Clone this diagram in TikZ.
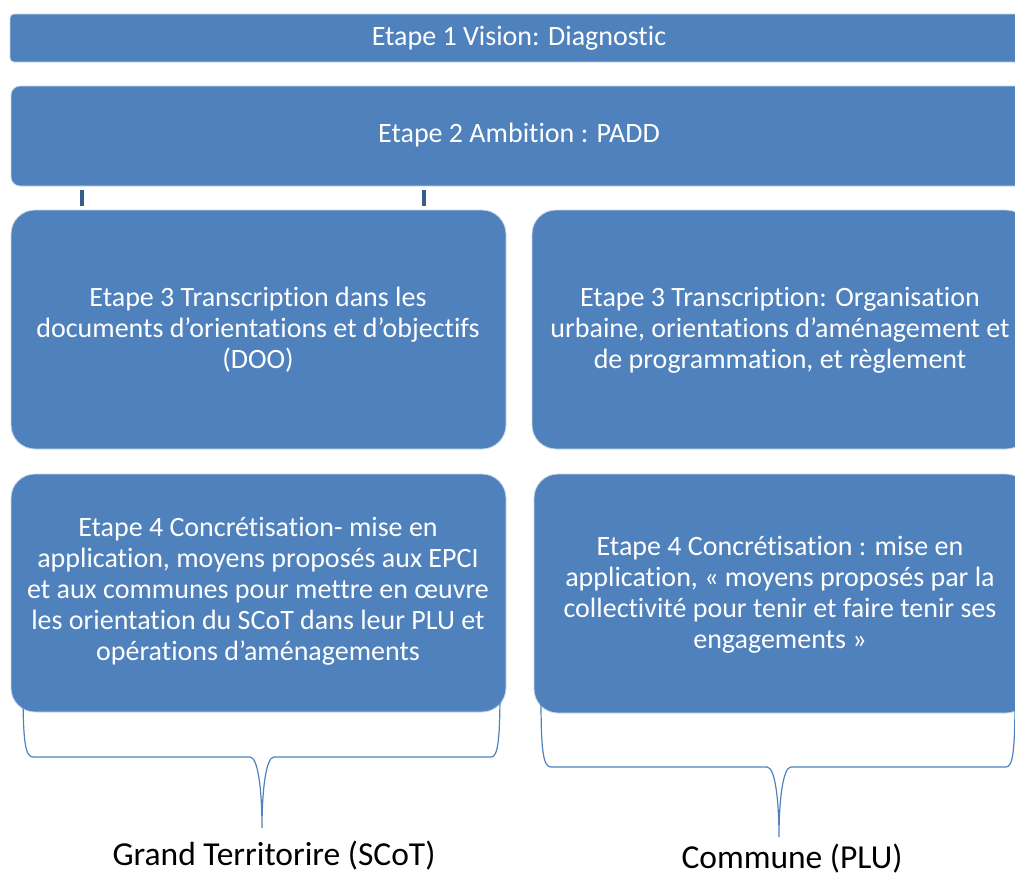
\documentclass[tikz,border=0pt]{standalone}
\usepackage{fontspec}
\setmainfont{Carlito}[Ligatures={NoCommon}]
\definecolor{obl}{HTML}{4F81BD}
\definecolor{obd}{HTML}{385D8A}
\definecolor{obe}{HTML}{C8D6EA}
\begin{document}
\begin{tikzpicture}[x=1pt,y=-1pt,
  bar/.style={fill=obl,draw=obe,line width=0.8pt},
  bigbox/.style={bar,rounded corners=24pt},
  btxt/.style={text=white,align=center,font=\fontsize{28}{31}\selectfont,inner sep=0pt},
  tick/.style={draw=obd,line width=3.5pt},
  brace/.style={draw=obl,line width=1.2pt},
  lbl/.style={font=\fontsize{33.5}{38}\selectfont,text=black,inner sep=0pt}]
\useasboundingbox (0,0) rectangle (1015,878);
% bars
\draw[bar,rounded corners=4pt] (10,14) rectangle (1028,62);
\node[btxt] (b1) at (519,38) {Etape 1 Vision: Diagnostic};
\draw[bar,rounded corners=9pt] (11,86) rectangle (1028,186);
\node[btxt] (b2) at (519,135) {Etape 2 Ambition : PADD};
% ticks
\draw[tick] (82,190) -- (82,206);
\draw[tick] (424,190) -- (424,206);
% boxes
\draw[bigbox] (11,210) rectangle (506,449);
\node[btxt] (b3l) at (258,330) {Etape 3 Transcription dans les\\documents d’orientations et d’objectifs\\(DOO)};
\draw[bigbox] (532,210) rectangle (1030,449);
\node[btxt] (b3r) at (780,330) {Etape 3 Transcription: Organisation\\urbaine, orientations d’aménagement et\\de programmation, et règlement};
\draw[bigbox] (11,474) rectangle (506,712);
\node[btxt] (b4l) at (258,591) {Etape 4 Concrétisation- mise en\\application, moyens proposés aux EPCI\\et aux communes pour mettre en œuvre\\les orientation du SCoT dans leur PLU et\\opérations d’aménagements};
\draw[bigbox] (534,474) rectangle (1030,713);
\node[btxt] (b4r) at (780,595) {Etape 4 Concrétisation : mise en\\application, « moyens proposés par la\\collectivité pour tenir et faire tenir ses\\engagements »};
% braces
\coordinate (lt) at (262,828);
\coordinate (rt) at (779,837);
\draw[brace] (23,688) .. controls (23,740) and (25,757) .. (33,757) -- (250,757)
  .. controls (258,757) and (262,790) .. (lt)
  .. controls (262,790) and (266,757) .. (274,757) -- (491,757)
  .. controls (498,757) and (500,740) .. (500,688);
\draw[brace] (541,697) .. controls (541,750) and (543,767) .. (551,767) -- (767,767)
  .. controls (775,767) and (779,800) .. (rt)
  .. controls (779,800) and (783,767) .. (791,767) -- (1006,767)
  .. controls (1013,767) and (1015,750) .. (1015,697);
% labels
\node[lbl] (gt) at (274,856) {Grand Territorire (SCoT)};
\node[lbl] (cm) at (792,859) {Commune (PLU)};
\end{tikzpicture}
\end{document}
